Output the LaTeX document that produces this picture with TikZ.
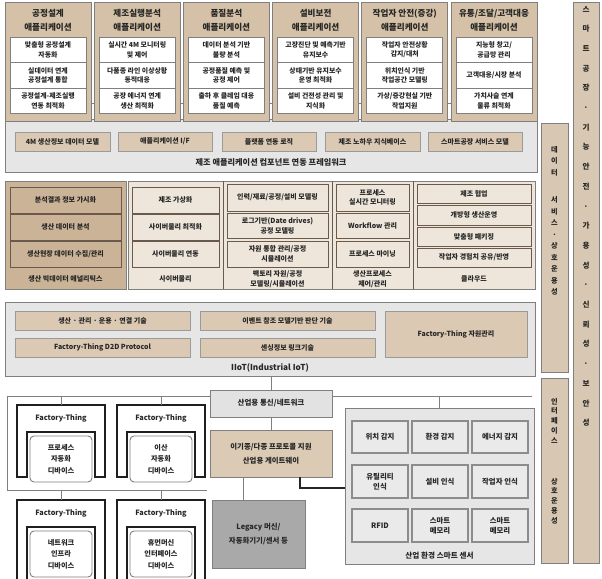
\documentclass[tikz,border=0pt]{standalone}
\usepackage{fontspec}
\newfontfamily\kr{Noto Sans CJK KR}
\usetikzlibrary{calc}
\definecolor{txt}{HTML}{262626}
\definecolor{appTan}{HTML}{D5C1A7}
\definecolor{bordG}{HTML}{7F7F7F}
\definecolor{compTan}{HTML}{DBC9B3}
\definecolor{compB}{HTML}{9A9A9A}
\definecolor{frameG}{HTML}{E6E6E6}
\definecolor{darkTan}{HTML}{CAB396}
\definecolor{darkB}{HTML}{6A5A4C}
\definecolor{lightTan}{HTML}{EEE6DB}
\definecolor{sideTan}{HTML}{D8C7B2}
\definecolor{legacyG}{HTML}{A9A9A9}
\definecolor{netG}{HTML}{E2E2E2}
\definecolor{sensG}{HTML}{E6E6E6}
\definecolor{sensIn}{HTML}{EAEAEA}
\tikzset{
  base/.style={inner sep=0pt, outer sep=0pt, align=center, text=txt,
    font=\kr\bfseries\fontsize{7}{9.5}\selectfont},
  apphead/.style={base, draw=bordG, fill=appTan, line width=1pt},
  apptitle/.style={base, font=\kr\bfseries\fontsize{8.6}{14}\selectfont},
  wbox/.style={base, draw=bordG, fill=white, line width=0.8pt, font=\kr\bfseries\fontsize{6.9}{9.5}\selectfont},
  frame/.style={base, draw=bordG, fill=frameG, line width=1pt},
  comp/.style={base, draw=compB, fill=compTan, line width=0.9pt},
  fwtitle/.style={base, font=\kr\bfseries\fontsize{8.2}{10}\selectfont},
  darkcol/.style={base, draw=bordG, fill=darkTan, line width=1pt},
  darkin/.style={base, draw=darkB, fill=darkTan, line width=0.9pt},
  lightcol/.style={base, draw=bordG, fill=lightTan, line width=1pt},
  lightin/.style={base, draw=darkB, fill=lightTan, line width=0.9pt},
  lbl/.style={base},
  divline/.style={draw=darkB, line width=0.8pt},
  side/.style={base, draw=bordG, fill=sideTan, line width=1pt},
  vtxt/.style={base, anchor=north},
  conn/.style={draw=bordG, line width=1pt},
  darkconn/.style={draw=black!85, line width=1.1pt},
  netbox/.style={base, draw=bordG, fill=netG, line width=1pt, font=\kr\bfseries\fontsize{7.5}{10}\selectfont},
  gwbox/.style={base, draw=bordG, fill=appTan!85, line width=1pt, font=\kr\bfseries\fontsize{7.4}{14.5}\selectfont},
  legbox/.style={base, draw=bordG, fill=legacyG, line width=1pt, font=\kr\bfseries\fontsize{7.4}{14.5}\selectfont},
  sensbox/.style={base, draw=bordG, fill=sensG, line width=1pt},
  sensin/.style={base, draw=bordG!90, fill=sensIn, line width=1.4pt, font=\kr\bfseries\fontsize{7.4}{10.5}\selectfont},
  archst/.style={draw=black!88, fill=white, line width=1.6pt},
  devbox/.style={base, draw=bordG, fill=white, line width=0.9pt, rounded corners=4pt, font=\kr\bfseries\fontsize{7.2}{11.5}\selectfont},
  ftlabel/.style={base, font=\kr\bfseries\fontsize{7.3}{9}\selectfont},
}
% style, name, x1, y1, x2, y2, text
\newcommand\bx[7]{\node[#1, minimum width={((#5)-(#3))*1pt}, minimum height={((#6)-(#4))*1pt}] (#2) at ({((#3)+(#5))/2},{((#4)+(#6))/2}) {#7};}
% name, start x, title, t1, t2, t3
\newcommand\appbox[6]{%
  \bx{apphead}{#1}{#2}{3}{#2+86}{121}{}
  \node[apptitle] (#1t) at ({#2+43},20) {#3};
  \bx{wbox}{#1a}{#2+5}{37}{#2+81}{62.5}{#4}
  \bx{wbox}{#1b}{#2+5}{62.5}{#2+81}{88}{#5}
  \bx{wbox}{#1c}{#2+5}{88}{#2+81}{113.5}{#6}
}
% name, x, ytop, ybottom, line1, line2, line3
\newcommand\ftbox[7]{%
  \draw[archst] (#2,#4) -- (#2,#3) -- ({#2+88},#3) -- ({#2+88},#4) -- ({#2+78},#4)
    -- ({#2+78},{#3+27}) -- ({#2+10},{#3+27}) -- ({#2+10},#4) -- cycle;
  \coordinate (#1top) at ({#2+44},#3);
  \node[ftlabel] (#1l) at ({#2+44},{#3+13}) {Factory-Thing};
  \bx{devbox}{#1d}{#2+13}{#3+31}{#2+75}{#3+77}{#5\\#6\\#7}
}
\begin{document}
\begin{tikzpicture}[x=1pt,y=-1pt]
\useasboundingbox (0,0) rectangle (602,578);
\clip (0,0) rectangle (602,578);

% ---- side columns
\bx{side}{colR}{573}{3}{599}{563}{}
\bx{side}{colD}{541}{123}{568}{372}{}
\bx{side}{colI}{541}{378}{568}{563}{}
\node[vtxt, font=\kr\bfseries\fontsize{7.6}{19.7}\selectfont] (colRt) at (586,6)
  {스\\마\\트\\공\\장\\·\\기\\능\\안\\전\\·\\가\\용\\성\\·\\신\\뢰\\성\\·\\보\\안\\성};
\node[vtxt, font=\kr\bfseries\fontsize{7.2}{11.5}\selectfont] (colDt) at (554.5,146)
  {데\\이\\터\\[16pt]서\\비\\스\\·\\상\\호\\운\\용\\성};
\node[vtxt, font=\kr\bfseries\fontsize{7.2}{9.8}\selectfont] (colIt) at (554.5,398)
  {인\\터\\페\\이\\스\\[31pt]상\\호\\운\\용\\성};

% ---- framework
\bx{frame}{fw}{5}{119}{537}{172}{}
\bx{comp}{fc1}{15}{132}{110}{151}{4M 생산정보 데이터 모델}
\bx{comp}{fc2}{118}{132}{212}{151}{애플리케이션 I/F}
\bx{comp}{fc3}{222}{132}{316}{151}{플랫폼 연동 로직}
\bx{comp}{fc4}{325}{132}{420}{151}{제조 노하우 지식베이스}
\bx{comp}{fc5}{428}{132}{522}{151}{스마트공장 서비스 모델}
\node[fwtitle] (fwt) at (271,162.5) {제조 애플리케이션 컴포넌트 연동 프레임워크};

% ---- applications
\coordinate (hl1) at (5,103);
\coordinate (hl2) at (537,103);
\draw[conn, line width=0.8pt] (hl1) -- (hl2);
\appbox{ap1}{5}{공정설계\\애플리케이션}{맞춤형 공정설계\\자동화}{실데이터 연계\\공정설계 통합}{공정설계-제조실행\\연동 최적화}
\appbox{ap2}{94.2}{제조실행분석\\애플리케이션}{실시간 4M 모니터링\\및 제어}{다품종 라인 이상상황\\동적대응}{공장 에너지 연계\\생산 최적화}
\appbox{ap3}{183.4}{품질분석\\애플리케이션}{데이터 분석 기반\\불량 분석}{공정품질 예측 및\\공정 제어}{출하 후 클레임 대응\\품질 예측}
\appbox{ap4}{272.6}{설비보전\\애플리케이션}{고장진단 및 예측기반\\유지보수}{상태기반 유지보수\\운영 최적화}{설비 건전성 관리 및\\지식화}
\appbox{ap5}{361.8}{작업자 안전(증강)\\애플리케이션}{작업자 안전상황\\감지/대처}{위치인식 기반\\작업공간 모델링}{가상/증강현실 기반\\작업지원}
\appbox{ap6}{451}{유통/조달/고객대응\\애플리케이션}{지능형 창고/\\공급망 관리}{고객대응/시장 분석}{가치사슬 연계\\물류 최적화}

% ---- middle section
\bx{darkcol}{m1}{5}{181}{126}{289}{}
\bx{lightcol}{m2}{128}{181}{535}{289}{}
\coordinate (d1) at (223,0);
\coordinate (d2) at (332,0);
\coordinate (d3) at (413,0);
\draw[divline] (m2.north -| d1) -- (m2.south -| d1);
\draw[divline] (m2.north -| d2) -- (m2.south -| d2);
\draw[divline] (m2.north -| d3) -- (m2.south -| d3);

\bx{darkin}{m1a}{10}{187}{121}{213}{분석결과 정보 가시화}
\bx{darkin}{m1b}{10}{214}{121}{240}{생산 데이터 분석}
\bx{darkin}{m1c}{10}{241}{121}{267}{생산현장 데이터 수집/관리}
\node[lbl] (m1l) at (65.5,279) {생산 빅데이터 애널리틱스};

\bx{lightin}{m2a}{132}{187}{219}{213}{제조 가상화}
\bx{lightin}{m2b}{132}{214}{219}{240}{사이버물리 최적화}
\bx{lightin}{m2c}{132}{241}{219}{267}{사이버물리 연동}
\node[lbl] (m2l) at (175.5,279) {사이버물리};

\bx{lightin}{m3a}{227}{184}{328}{211}{인력/재료/공정/설비 모델링}
\bx{lightin}{m3b}{227}{213}{328}{238.5}{로그기반(Date drives)\\공정 모델링}
\bx{lightin}{m3c}{227}{241}{328}{267}{자원 통합 관리/공정\\시뮬레이션}
\node[lbl] (m3l) at (277.5,279) {팩토리 자원/공정\\모델링/시뮬레이션};

\bx{lightin}{m4a}{336}{184}{409}{211}{프로세스\\실시간 모니터링}
\bx{lightin}{m4b}{336}{213}{409}{238.5}{Workflow 관리}
\bx{lightin}{m4c}{336}{241}{409}{267}{프로세스 마이닝}
\node[lbl] (m4l) at (372.5,279) {생산프로세스\\제어/관리};

\bx{lightin}{m5a}{417}{184}{531}{203.5}{제조 협업}
\bx{lightin}{m5b}{417}{205.5}{531}{225}{개방형 생산운영}
\bx{lightin}{m5c}{417}{227}{531}{246}{맞춤형 패키징}
\bx{lightin}{m5d}{417}{248}{531}{267}{작업자 경험치 공유/반영}
\node[lbl] (m5l) at (474,278.5) {클라우드};

% ---- IIoT
\bx{frame}{iiot}{5}{302}{535}{376}{}
\bx{comp}{ii1}{15}{311}{190}{330}{생산 · 관리 · 운용 · 연결 기술}
\bx{comp}{ii2}{200}{311}{375}{330}{이벤트 참조 모델기반 판단 기술}
\bx{comp}{ii3}{385}{311}{527}{357}{Factory-Thing 자원관리}
\bx{comp}{ii4}{15}{338}{190}{357}{Factory-Thing D2D Protocol}
\bx{comp}{ii5}{200}{338}{375}{357}{센싱정보 링크기술}
\node[fwtitle] (iiott) at (270,367.5) {IIoT(Industrial IoT)};

% ---- bottom section
\bx{netbox}{net}{210}{390}{332}{417}{산업용 통신/네트워크}
\bx{gwbox}{gw}{210}{430}{332}{477}{이기종/다종 프로토콜 지원\\산업용 게이트웨이}
\bx{legbox}{leg}{212}{500}{305}{568}{Legacy 머신/\\자동화기기/센서 등}
\bx{sensbox}{sens}{345}{408}{534}{564}{}
\bx{sensin}{s11}{352}{421}{408}{453}{위치 감지}
\bx{sensin}{s12}{412}{421}{468}{453}{환경 감지}
\bx{sensin}{s13}{472}{421}{528}{453}{에너지 감지}
\bx{sensin}{s21}{352}{465}{408}{498}{유틸리티\\인식}
\bx{sensin}{s22}{412}{465}{468}{498}{설비 인식}
\bx{sensin}{s23}{472}{465}{528}{498}{작업자 인식}
\bx{sensin}{s31}{352}{509}{408}{542}{RFID}
\bx{sensin}{s32}{412}{509}{468}{542}{스마트\\메모리}
\bx{sensin}{s33}{472}{509}{528}{542}{스마트\\메모리}
\node[fwtitle, font=\kr\bfseries\fontsize{7.6}{10}\selectfont] (senst) at (439.5,555.5) {산업 환경 스마트 센서};

% connectors
\draw[conn] (iiot.south -| net.north) -- (net.north);
\draw[conn] (net.south) -- (gw.north);
\coordinate (gl) at (243,0);
\draw[conn] (gw.south -| gl) -- (leg.north -| gl);
\coordinate (gs) at (300,488);
\draw[darkconn] (gw.south -| gs) |- (sens.west |- gs);
\coordinate (fr) at (7,396);
\coordinate (frb) at (7,490);
\coordinate (fre) at (207,490);
\coordinate (nre) at (532,396);
\draw[conn] (net.west |- fr) -- (fr) -- (frb) -- (fre);
\draw[conn] (net.east |- fr) -- (nre);
\draw[conn] (sens.north |- fr) -- (sens.north);

% Factory-Things
\ftbox{ft1}{17}{405}{477}{프로세스}{자동화}{디바이스}
\ftbox{ft2}{117}{405}{477}{이산}{자동화}{디바이스}
\ftbox{ft3}{17}{500}{584}{네트워크}{인프라}{디바이스}
\ftbox{ft4}{117}{500}{584}{휴먼머신}{인터페이스}{디바이스}
\draw[conn] (ft1top |- fr) -- (ft1top);
\draw[conn] (ft2top |- fr) -- (ft2top);
\draw[conn] (ft3top |- frb) -- (ft3top);
\draw[conn] (ft4top |- frb) -- (ft4top);
\end{tikzpicture}
\end{document}
